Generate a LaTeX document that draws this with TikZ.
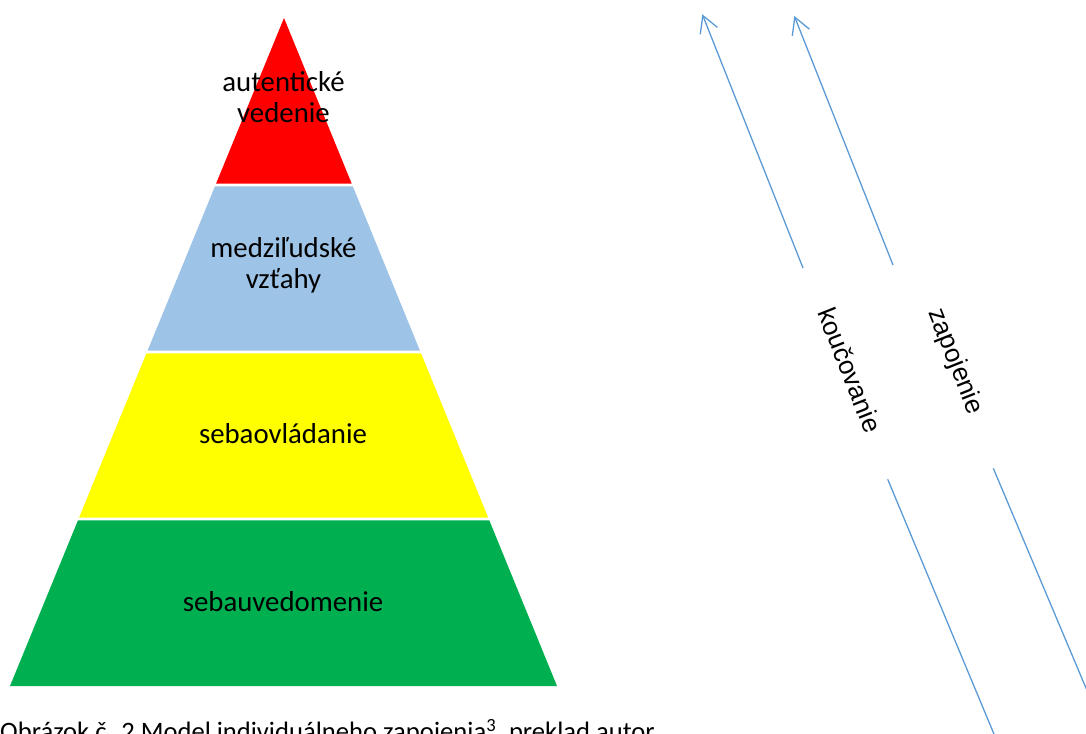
\documentclass[tikz,border=0pt]{standalone}
\usepackage{fontspec}
\setmainfont{Carlito}
\newfontfamily\arialf{Liberation Sans}
\usetikzlibrary{arrows.meta,calc}
\definecolor{layRed}{HTML}{FF0000}
\definecolor{layBlue}{HTML}{9DC3E6}
\definecolor{layYellow}{HTML}{FFFF00}
\definecolor{layGreen}{HTML}{00B050}
\definecolor{arrBlue}{HTML}{5B9BD5}
\begin{document}
\begin{tikzpicture}[x=1pt,y=-1pt,
  laytext/.style={font=\fontsize{28.8}{31}\selectfont, align=center, inner sep=0pt, anchor=base},
  rottext/.style={font=\arialf\fontsize{26}{30}\selectfont, inner sep=0pt, rotate=-68.3},
  arrline/.style={draw=arrBlue, line width=1.3pt},
  arrhead/.style={arrline, -{Straight Barb[length=16.5pt,width=18.5pt]}},
  captext/.style={font=\fontsize{26.6}{30}\selectfont, inner sep=0pt, anchor=base west}]
\useasboundingbox (0,0) rectangle (1086,733);
\clip (0,0) rectangle (1086,733);
% pyramid
\coordinate (A) at (284,18);
\coordinate (BL) at (10,686);
\coordinate (BR) at (557,686);
\fill[layRed] (A) -- ($(A)!0.2478!(BL)$) -- ($(A)!0.2478!(BR)$) -- cycle;
\fill[layBlue] ($(A)!0.2522!(BL)$) -- ($(A)!0.4978!(BL)$) -- ($(A)!0.4978!(BR)$) -- ($(A)!0.2522!(BR)$) -- cycle;
\fill[layYellow] ($(A)!0.5022!(BL)$) -- ($(A)!0.7478!(BL)$) -- ($(A)!0.7478!(BR)$) -- ($(A)!0.5022!(BR)$) -- cycle;
\fill[layGreen] ($(A)!0.7522!(BL)$) -- (BL) -- (BR) -- ($(A)!0.7522!(BR)$) -- cycle;
% layer labels
\node[laytext] (autent) at (283.5,122.5) {autentické\\vedenie};
\node[laytext] (medzi) at (283.5,288) {medziľudské\\vzťahy};
\node[laytext] (sebaov) at (283,443) {sebaovládanie};
\node[laytext] (sebauv) at (283,611) {sebauvedomenie};
% arrows
\coordinate (t1) at (702.3,14.3);
\coordinate (u1) at (803,268);
\coordinate (l1a) at (887.7,479.3);
\coordinate (l1b) at (1004.8,760);
\coordinate (t2) at (794.3,16);
\coordinate (u2) at (893,265);
\coordinate (l2a) at (993.3,468.3);
\coordinate (l2b) at (1110,745);
\draw[arrhead] (u1) -- (t1);
\draw[arrline] (l1a) -- (l1b);
\draw[arrhead] (u2) -- (t2);
\draw[arrline] (l2a) -- (l2b);
\node[rottext] (kouc) at (850,370) {koučovanie};
\node[rottext] (zapoj) at (955,361.5) {zapojenie};
% caption
\node[captext] (cap) at (0,740.5) {Obrázok č. 2 Model individuálneho zapojenia\textsuperscript{3}, preklad autor};
\end{tikzpicture}
\end{document}
